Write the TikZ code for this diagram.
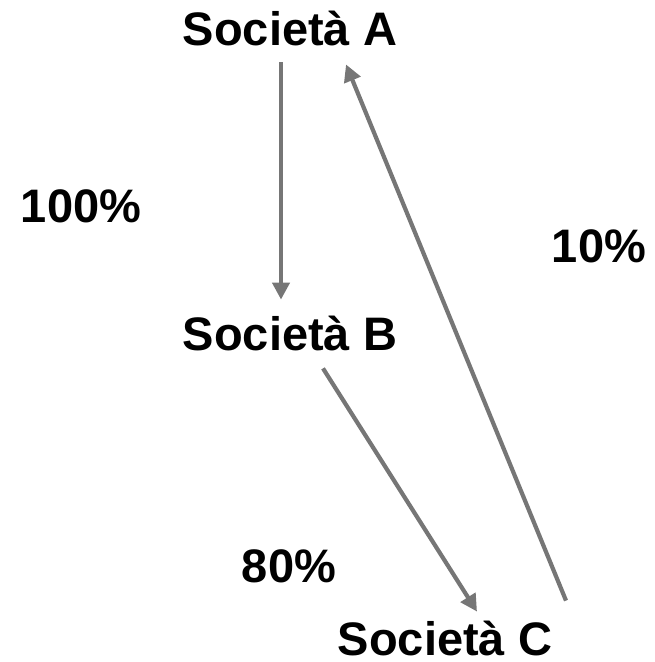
\documentclass[tikz,border=0pt]{standalone}
\usepackage{fontspec}
\setmainfont{Liberation Sans}
\usetikzlibrary{arrows.meta}
\definecolor{linkgray}{RGB}{118,118,118}
\begin{document}
\begin{tikzpicture}[x=0.5pt, y=-0.5pt,
  every node/.style={font=\fontsize{23.5}{28}\selectfont\bfseries, inner sep=0pt, text height=17pt, text depth=0pt},
  link/.style={-{Triangle[width=8.5pt,length=8.5pt]}, line width=2.1pt, linkgray}]
\useasboundingbox (0,0) rectangle (654,662);
\node (socA) at (290,29) {Società A};
\node (socB) at (290,333) {Società B};
\node (socC) at (445,638) {Società C};
\node (pAB) at (81,206) {100\%};
\node (pCA) at (599,246) {10\%};
\node (pBC) at (289,565) {80\%};
\draw[link] ([xshift=-4.5pt,yshift=-8pt]socA.south) -- ([xshift=-4.5pt,yshift=8pt]socB.north);
\draw[link] ([xshift=16.5pt,yshift=-9pt]socB.south) -- ([xshift=16pt,yshift=4.5pt]socC.north);
\draw[link] ([xshift=60.5pt,yshift=10pt]socC.north) -- ([xshift=28pt,yshift=-9pt]socA.south);
\end{tikzpicture}
\end{document}
